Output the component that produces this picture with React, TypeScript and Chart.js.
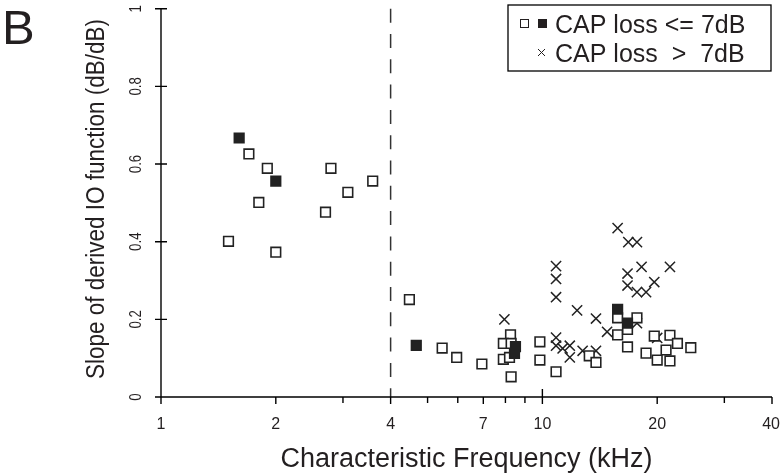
import React, { useEffect, useRef } from "react";
import { Chart, registerables } from "chart.js";

Chart.register(...registerables);

const FONT = '"Liberation Sans", Arial, Helvetica, sans-serif';
const INK = "#231f20";

// Axis ticks
const xTickValues = [1, 2, 4, 7, 10, 20, 40];
const xTickLabels = ["1", "2", "4", "7", "10", "20", "40"];
const xMinorTicks = [3, 5, 6, 8, 9, 30];
const yTickValues = [0, 0.2, 0.4, 0.6, 0.8, 1];
const yTickLabels = ["0", "0.2", "0.4", "0.6", "0.8", "1"];
const dividerFrequency = 4;

// CAP loss <= 7 dB, open squares
const openCF = [
  1.7, 1.9, 1.805, 1.503, 2.0, 2.79, 2.7, 3.09, 3.59,
  4.48, 5.46, 5.96, 6.94,
  8.25, 7.9, 8.28, 7.9, 8.2, 8.28,
  9.85, 9.85, 10.86, 13.27, 13.82,
  15.75, 15.75, 16.72, 16.72, 17.7, 18.7, 19.65, 21.6, 22.6, 21.1, 24.5, 20.0, 21.6,
];
const openSlope = [
  0.626, 0.589, 0.501, 0.401, 0.373, 0.589, 0.476, 0.527, 0.556,
  0.251, 0.126, 0.102, 0.085,
  0.16, 0.138, 0.138, 0.097, 0.102, 0.052,
  0.142, 0.095, 0.065, 0.106, 0.089,
  0.204, 0.16, 0.174, 0.129, 0.204, 0.113, 0.157, 0.159, 0.138, 0.121, 0.127, 0.095, 0.093,
];

// CAP loss <= 7 dB, filled squares
const filledCF = [1.603, 2.0, 4.67, 8.5, 8.45, 15.75, 16.72];
const filledSlope = [0.667, 0.556, 0.133, 0.13, 0.112, 0.226, 0.19];

// CAP loss > 7 dB, crosses
const crossCF = [
  7.95, 10.86, 10.86, 10.86, 10.86, 10.86, 11.3, 11.8, 11.8, 12.33, 12.75, 13.82, 13.82,
  14.78, 15.75, 16.8, 17.7, 18.2, 21.6, 16.72, 16.72, 17.7, 18.7, 19.65, 20.0, 17.7,
];
const crossSlope = [
  0.2, 0.337, 0.304, 0.257, 0.153, 0.132, 0.125, 0.132, 0.102, 0.223, 0.119, 0.119, 0.202,
  0.168, 0.435, 0.399, 0.399, 0.335, 0.335, 0.318, 0.287, 0.27, 0.27, 0.296, 0.152, 0.19,
];

const legendLine1 = "CAP loss <= 7dB";
const legendLine2 = "CAP loss  >  7dB";
const xTitle = "Characteristic Frequency (kHz)";
const yTitle = "Slope of derived IO function (dB/dB)";
const panelLabel = "B";

const toPoints = (xs: number[], ys: number[]) => xs.map((v, i) => ({ x: v, y: ys[i] }));

const decorPlugin = {
  id: "decor",
  beforeDatasetsDraw(chart: any) {
    const { ctx, chartArea: a } = chart;
    const xs = chart.scales.x;
    const ys = chart.scales.y;
    ctx.save();
    // dashed divider
    const dx = xs.getPixelForValue(dividerFrequency);
    ctx.strokeStyle = "#333";
    ctx.lineWidth = 1.5;
    ctx.setLineDash([14, 11.3]);
    ctx.beginPath();
    ctx.moveTo(dx, a.top);
    ctx.lineTo(dx, a.bottom);
    ctx.stroke();
    ctx.setLineDash([]);

    // axes
    ctx.strokeStyle = "#000";
    ctx.lineWidth = 1.4;
    ctx.beginPath();
    ctx.moveTo(a.left, a.top);
    ctx.lineTo(a.left, a.bottom);
    ctx.lineTo(a.right, a.bottom);
    yTickValues.forEach((v) => {
      const py = ys.getPixelForValue(v);
      ctx.moveTo(a.left - 6, py);
      ctx.lineTo(a.left + 6, py);
    });
    xTickValues.forEach((v) => {
      const px = xs.getPixelForValue(v);
      ctx.moveTo(px, a.bottom + 7);
      ctx.lineTo(px, v === 10 ? a.bottom - 8 : a.bottom);
    });
    xMinorTicks.forEach((v) => {
      const px = xs.getPixelForValue(v);
      ctx.moveTo(px, a.bottom + 6);
      ctx.lineTo(px, a.bottom);
    });
    ctx.stroke();

    // tick labels
    ctx.fillStyle = INK;
    ctx.font = `16px ${FONT}`;
    ctx.textBaseline = "middle";
    ctx.textAlign = "center";
    const W = chart.width;
    xTickValues.forEach((v, i) => {
      let px = xs.getPixelForValue(v);
      const w = ctx.measureText(xTickLabels[i]).width;
      if (px + w / 2 > W - 1) px = W - 1 - w / 2;
      ctx.fillText(xTickLabels[i], px, a.bottom + 28);
    });
    ctx.font = `17px ${FONT}`;
    yTickValues.forEach((v, i) => {
      const py = ys.getPixelForValue(v);
      ctx.save();
      ctx.translate(a.left - 25, py);
      ctx.rotate(-Math.PI / 2);
      ctx.scale(0.78, 1);
      ctx.fillText(yTickLabels[i], 0, 0);
      ctx.restore();
    });

    // titles
    ctx.font = `27px ${FONT}`;
    ctx.fillText(xTitle, (a.left + a.right) / 2, 460);
    ctx.font = `25px ${FONT}`;
    ctx.save();
    ctx.translate(97, 199);
    ctx.rotate(-Math.PI / 2);
    ctx.scale(0.9, 1);
    ctx.fillText(yTitle, 0, 0);
    ctx.restore();

    // panel label
    ctx.font = `49px ${FONT}`;
    ctx.textAlign = "left";
    ctx.textBaseline = "alphabetic";
    ctx.fillText(panelLabel, 2, 44);
    ctx.restore();
  },
  afterDatasetsDraw(chart: any) {
    const { ctx } = chart;
    ctx.save();
    // legend box
    ctx.fillStyle = "#fff";
    ctx.fillRect(508, 5, 263, 66);
    ctx.strokeStyle = "#000";
    ctx.lineWidth = 1.3;
    ctx.strokeRect(508, 5, 263, 66);
    // symbols
    ctx.lineWidth = 1;
    ctx.strokeStyle = INK;
    ctx.strokeRect(520.5, 19.5, 8, 8);
    ctx.fillStyle = INK;
    ctx.fillRect(538, 19, 9, 9);
    ctx.beginPath();
    ctx.moveTo(538, 49);
    ctx.lineTo(545, 56);
    ctx.moveTo(545, 49);
    ctx.lineTo(538, 56);
    ctx.stroke();
    // text
    ctx.font = `25px ${FONT}`;
    ctx.textAlign = "left";
    ctx.textBaseline = "alphabetic";
    ctx.fillText(legendLine1, 555, 33);
    ctx.fillText(legendLine2, 555, 62);
    ctx.restore();
  },
};

export default function App() {
  const ref = useRef<HTMLCanvasElement | null>(null);
  useEffect(() => {
    if (!ref.current) return;
    const sq = {
      pointStyle: "rect",
      pointRadius: 6.8,
      pointHoverRadius: 6.8,
      pointBorderWidth: 1.6,
      borderColor: "#222",
      pointBorderColor: "#222",
    };
    const chart = new Chart(ref.current, {
      type: "scatter",
      data: {
        datasets: [
          { ...sq, label: "filled", data: toPoints(filledCF, filledSlope), backgroundColor: "#222", pointBackgroundColor: "#222" } as any,
          { ...sq, label: "open", data: toPoints(openCF, openSlope), backgroundColor: "#fff", pointBackgroundColor: "#fff" } as any,
          {
            label: "cross",
            data: toPoints(crossCF, crossSlope),
            pointStyle: "crossRot",
            pointRadius: 7.2,
            pointBorderWidth: 1.5,
            borderColor: "#222",
            pointBorderColor: "#222",
            backgroundColor: "#222",
          } as any,
        ],
      },
      options: {
        responsive: false,
        animation: false,
        events: [],
        layout: { padding: { left: 161, right: 9, top: 7, bottom: 79 } },
        plugins: { legend: { display: false }, tooltip: { enabled: false } },
        scales: {
          x: { type: "logarithmic", min: 1, max: 40, display: false },
          y: { type: "linear", min: 0, max: 1, display: false },
        },
      },
      plugins: [decorPlugin],
    });
    return () => chart.destroy();
  }, []);
  return (
    <div style={{ position: "fixed", left: 0, top: 0, width: 781, height: 476, background: "#fff" }}>
      <canvas ref={ref} width={781} height={476} style={{ display: "block" }} />
    </div>
  );
}
